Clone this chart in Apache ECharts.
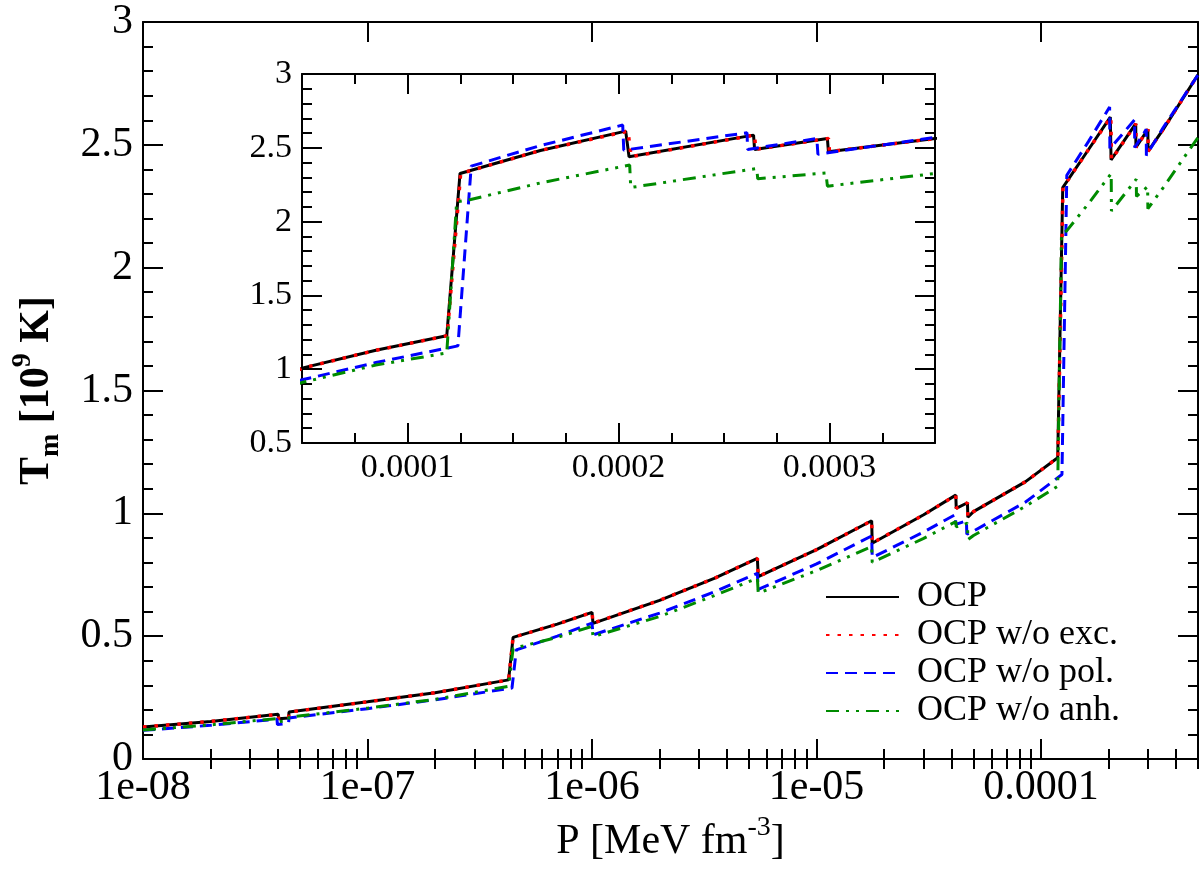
<!DOCTYPE html>
<html>
<head>
<meta charset="utf-8">
<script src="https://cdn.jsdelivr.net/npm/echarts@6/dist/echarts.min.js"></script>
<style>
  html, body { margin: 0; padding: 0; background: #fff; }
  #chart { width: 1200px; height: 870px; }
</style>
</head>
<body>
<div id="chart"></div>
<script>
// pressure P [MeV fm^-3] and melting temperature Tm [10^9 K]
const ocpP = [1e-8, 2e-8, 4.0e-8, 4.02e-8, 4.45e-8, 4.47e-8, 1e-7, 2e-7, 4.25e-7, 4.45e-7, 7e-7, 1.0e-6, 1.01e-6,
  2e-6, 3.5e-6, 5.45e-6, 5.5e-6, 1e-5, 1.76e-5, 1.77e-5, 3e-5, 4.17e-5, 4.19e-5, 4.7e-5, 4.72e-5, 5e-5, 8.5e-5,
  1.186e-4, 1.249e-4, 1.63e-4, 2.034e-4, 2.05e-4, 2.64e-4, 2.645e-4, 2.99e-4, 2.995e-4, 3.5e-4, 5e-4];
const ocpT = [0.130, 0.153, 0.182, 0.164, 0.167, 0.191, 0.233, 0.270, 0.322, 0.495, 0.549, 0.597, 0.552,
  0.646, 0.735, 0.817, 0.742, 0.852, 0.970, 0.878, 0.994, 1.074, 1.020, 1.043, 0.984, 1.007, 1.128,
  1.226, 2.326, 2.482, 2.613, 2.439, 2.586, 2.489, 2.563, 2.473, 2.563, 2.785];

const excP = [1e-8, 2e-8, 4.0e-8, 4.02e-8, 4.45e-8, 4.47e-8, 1e-7, 2e-7, 4.25e-7, 4.45e-7, 7e-7, 1.0e-6, 1.01e-6,
  2e-6, 3.5e-6, 5.45e-6, 5.5e-6, 1e-5, 1.76e-5, 1.77e-5, 3e-5, 4.17e-5, 4.19e-5, 4.7e-5, 4.72e-5, 5e-5, 8.5e-5,
  1.188e-4, 1.252e-4, 1.63e-4, 2.045e-4, 2.06e-4, 2.645e-4, 2.65e-4, 2.995e-4, 3.0e-4, 3.5e-4, 5e-4];
const excT = [0.130, 0.153, 0.182, 0.165, 0.168, 0.191, 0.233, 0.270, 0.322, 0.495, 0.549, 0.597, 0.553,
  0.646, 0.735, 0.817, 0.743, 0.852, 0.970, 0.879, 0.994, 1.074, 1.021, 1.043, 0.985, 1.007, 1.128,
  1.227, 2.326, 2.482, 2.613, 2.440, 2.586, 2.490, 2.563, 2.474, 2.563, 2.785];

const polP = [1e-8, 2e-8, 3.95e-8, 3.97e-8, 4.45e-8, 4.47e-8, 1e-7, 2e-7, 4.4e-7, 4.6e-7, 7e-7, 1.0e-6, 1.01e-6,
  2e-6, 3.5e-6, 5.45e-6, 5.5e-6, 1e-5, 1.76e-5, 1.77e-5, 3e-5, 4.15e-5, 4.17e-5, 4.65e-5, 4.67e-5, 5e-5, 8.5e-5,
  1.239e-4, 1.302e-4, 1.63e-4, 2.02e-4, 2.025e-4, 2.609e-4, 2.612e-4, 2.94e-4, 2.945e-4, 3.5e-4, 5e-4];
const polT = [0.117, 0.137, 0.162, 0.140, 0.146, 0.167, 0.205, 0.241, 0.289, 0.444, 0.500, 0.553, 0.505,
  0.594, 0.680, 0.756, 0.690, 0.794, 0.908, 0.820, 0.924, 0.995, 0.955, 0.970, 0.915, 0.928, 1.045,
  1.158, 2.376, 2.515, 2.654, 2.484, 2.602, 2.489, 2.563, 2.457, 2.570, 2.785];

const anhP = [1e-8, 2e-8, 4.0e-8, 4.02e-8, 4.45e-8, 4.47e-8, 1e-7, 2e-7, 4.25e-7, 4.45e-7, 7e-7, 1.0e-6, 1.01e-6,
  2e-6, 3.5e-6, 5.45e-6, 5.5e-6, 1e-5, 1.76e-5, 1.77e-5, 3e-5, 4.17e-5, 4.19e-5, 4.7e-5, 4.72e-5, 5e-5, 8.5e-5,
  1.186e-4, 1.233e-4, 1.3e-4, 1.63e-4, 2.053e-4, 2.058e-4, 2.655e-4, 2.66e-4, 2.983e-4, 2.99e-4, 3.5e-4, 5e-4];
const anhT = [0.118, 0.139, 0.165, 0.152, 0.156, 0.170, 0.207, 0.243, 0.296, 0.450, 0.495, 0.540, 0.498,
  0.580, 0.665, 0.736, 0.675, 0.767, 0.865, 0.800, 0.898, 0.966, 0.945, 0.960, 0.893, 0.910, 1.028,
  1.110, 2.134, 2.150, 2.262, 2.383, 2.231, 2.360, 2.290, 2.330, 2.240, 2.326, 2.530];

const seriesNames = ['OCP', 'OCP w/o exc.', 'OCP w/o pol.', 'OCP w/o anh.'];

// tick positions
const decadeTicks = [1e-8, 1e-7, 1e-6, 1e-5, 1e-4];
const minorLogTicks = [];
decadeTicks.forEach(d => {
  for (let k = 2; k <= 9; k++) {
    if (k * d <= 5e-4) minorLogTicks.push(k * d);
  }
});
const insetMajorTicks = [1e-4, 2e-4, 3e-4];

const font = '"Liberation Serif", "Times New Roman", serif';
const pairs = (xs, ys) => xs.map((x, i) => [x, ys[i]]);

const colors = ['#000000', '#ff0000', '#0000ff', '#008b00'];
const lineStyles = [
  { color: colors[0], width: 3, type: 'solid' },
  { color: colors[1], width: 3.5, type: [3.5, 8] },
  { color: colors[2], width: 3, type: [12, 7] },
  { color: colors[3], width: 3, type: [13, 7, 3, 7, 3, 7] }
];
const dataSets = [pairs(ocpP, ocpT), pairs(excP, excT), pairs(polP, polT), pairs(anhP, anhT)];

const axisLine = { show: true, onZero: false, lineStyle: { color: '#000', width: 2 } };

const logAxis = (position, ticks, len, withLine, withLabels) => ({
  type: 'log',
  gridIndex: 0,
  logBase: 10,
  min: 1e-8,
  max: 5e-4,
  position: position,
  axisLine: withLine ? axisLine : { show: false },
  axisTick: { show: true, inside: true, length: len, customValues: ticks, lineStyle: { color: '#000', width: 2 } },
  axisLabel: withLabels ? {
    show: true, customValues: decadeTicks, margin: 8, fontSize: 42, fontFamily: font, color: '#000',
    formatter: v => {
      const e = Math.round(Math.log10(v));
      return e >= -4 ? v.toFixed(-e) : '1e-0' + (-e);
    }
  } : { show: false },
  splitLine: { show: false }
});

const insetAxis = (position, major, withLine, withLabels) => {
  const ax = {
    type: 'value',
    gridIndex: 1,
    min: 5e-5,
    max: 3.5e-4,
    position: position,
    axisLine: withLine ? axisLine : { show: false },
    splitLine: { show: false },
    axisLabel: { show: false }
  };
  if (major) {
    ax.axisTick = { show: true, inside: true, length: 20, customValues: insetMajorTicks, lineStyle: { color: '#000', width: 2 } };
  } else {
    ax.interval = 2.5e-5;
    ax.axisTick = { show: true, inside: true, length: 10, lineStyle: { color: '#000', width: 2 } };
  }
  if (withLabels) {
    ax.axisLabel = {
      show: true, customValues: insetMajorTicks, margin: 8, fontSize: 34, fontFamily: font, color: '#000',
      formatter: v => v.toFixed(4)
    };
  }
  return ax;
};

const valueYAxis = (grid, position, min, withLabels, fontSize) => ({
  type: 'value',
  gridIndex: grid,
  min: min,
  max: 3,
  interval: 0.5,
  position: position,
  axisLine: axisLine,
  axisTick: { show: true, inside: true, length: 20, lineStyle: { color: '#000', width: 2 } },
  minorTick: { show: true, splitNumber: 5, length: 10, lineStyle: { color: '#000', width: 2 } },
  axisLabel: withLabels ? { show: true, margin: 10, fontSize: fontSize, fontFamily: font, color: '#000' } : { show: false },
  splitLine: { show: false },
  minorSplitLine: { show: false }
});

const xAxes = [
  logAxis('bottom', decadeTicks, 20, true, true),
  logAxis('bottom', minorLogTicks, 10, false, false),
  logAxis('top', decadeTicks, 20, true, false),
  logAxis('top', minorLogTicks, 10, false, false),
  insetAxis('bottom', true, true, true),
  insetAxis('bottom', false, false, false),
  insetAxis('top', true, true, false),
  insetAxis('top', false, false, false)
];
Object.assign(xAxes[0], {
  name: '{a|P [MeV fm}{p|-3}{a|]}',
  nameLocation: 'middle',
  nameGap: 47,
  nameTextStyle: {
    fontFamily: font, color: '#000',
    rich: {
      a: { fontSize: 42, lineHeight: 56, fontFamily: font, color: '#000' },
      p: { fontSize: 28, lineHeight: 30, verticalAlign: 'top', fontFamily: font, color: '#000' }
    }
  }
});

const yAxes = [
  valueYAxis(0, 'left', 0, true, 42),
  valueYAxis(0, 'right', 0, false, 42),
  valueYAxis(1, 'left', 0.5, true, 34),
  valueYAxis(1, 'right', 0.5, false, 34)
];
Object.assign(yAxes[0], {
  name: '{a|T}{s|m}{a| [10}{p|9}{a| K]}',
  nameLocation: 'middle',
  nameGap: 78,
  nameTextStyle: {
    fontFamily: font, color: '#000',
    rich: {
      a: { fontSize: 42, lineHeight: 56, fontWeight: 'bold', fontFamily: font, color: '#000' },
      s: { fontSize: 28, lineHeight: 30, verticalAlign: 'bottom', fontWeight: 'bold', fontFamily: font, color: '#000' },
      p: { fontSize: 28, lineHeight: 30, verticalAlign: 'top', fontWeight: 'bold', fontFamily: font, color: '#000' }
    }
  }
});

const series = [];
[0, 4].forEach((xi, k) => {
  seriesNames.forEach((name, i) => {
    series.push({
      name: name, type: 'line', xAxisIndex: xi, yAxisIndex: k * 2,
      data: dataSets[i], showSymbol: false, symbol: 'none',
      itemStyle: { color: colors[i] },
      lineStyle: lineStyles[i], animation: false
    });
  });
});

const chart = echarts.init(document.getElementById('chart'));
chart.setOption({
  animation: false,
  backgroundColor: '#fff',
  grid: [
    { left: 143, right: 2, top: 22, bottom: 111, containLabel: false },
    { left: 302, top: 74, width: 633, height: 369, show: true, backgroundColor: '#fff', borderWidth: 0 }
  ],
  legend: {
    data: seriesNames,
    orient: 'vertical',
    left: 820,
    top: 573,
    itemWidth: 73,
    itemHeight: 14,
    itemGap: 0,
    itemStyle: { opacity: 0 },
    textStyle: { fontSize: 36, lineHeight: 38, fontFamily: font, color: '#000', padding: [0, 0, 0, 13] }
  },
  xAxis: xAxes,
  yAxis: yAxes,
  series: series
});
</script>
</body>
</html>
